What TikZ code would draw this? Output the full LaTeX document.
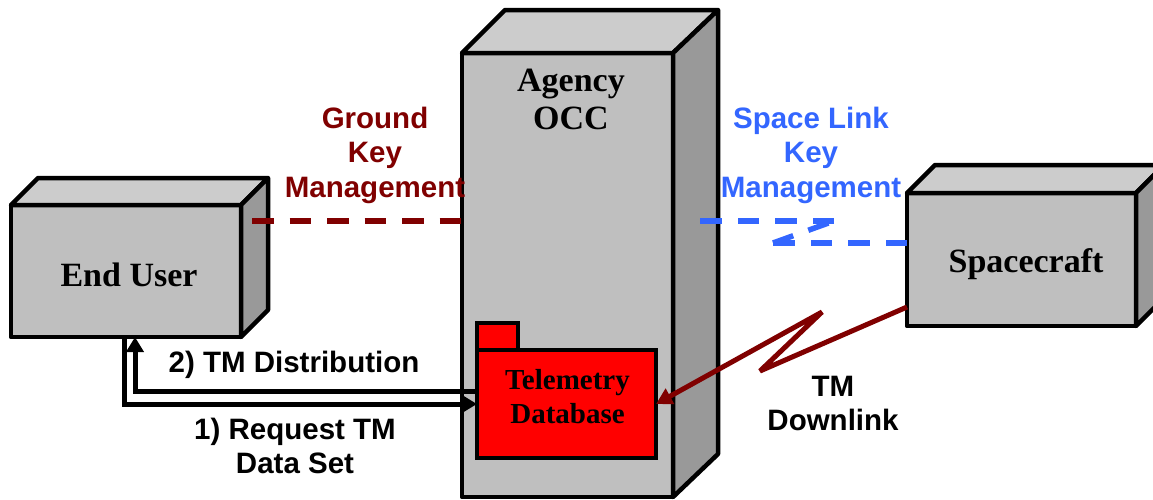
\documentclass[tikz,border=0pt]{standalone}
\usepackage{fontspec}
\setmainfont{Liberation Serif}
\setsansfont{Liberation Sans}
\usetikzlibrary{arrows.meta}
\definecolor{frontgray}{HTML}{bfbfbf}
\definecolor{topgray}{HTML}{cccccc}
\definecolor{sidegray}{HTML}{999999}
\definecolor{keyred}{HTML}{800000}
\definecolor{keyblue}{HTML}{3366ff}

\begin{document}
\begin{tikzpicture}[x=1pt,y=-1pt]
    \useasboundingbox (0, 0) rectangle (1153, 499);
    \clip (0, 0) rectangle (1153, 499);
    \begin{scope}[box/.style={draw,fill=frontgray,line width=4.5pt,line join=bevel,outer sep=0pt,inner sep=0pt},
        face/.style={draw,line width=4.5pt,line join=round},
        folder/.style={draw,fill=red,line width=4.5pt,outer sep=0pt,inner sep=0pt},
        title/.style={align=center,inner sep=0pt,font=\fontsize{34}{38}\selectfont\bfseries},
        label/.style={align=center,inner sep=0pt,font=\fontsize{29.5}{34.5}\selectfont\sffamily\bfseries}]
        % boxes
        \node[box, minimum width=230pt, minimum height=132pt] (enduser) at (126, 271) {};
        \node[box, minimum width=211pt, minimum height=444pt] (occ) at (567.5, 275) {};
        \node[box, minimum width=229pt, minimum height=133pt] (spacecraft) at (1021.5, 259.5) {};
        \fill[face, fill=topgray] (enduser.north west) -- ++(27, -27) -- ++(230, 0) -- (enduser.north east) -- cycle;
        \fill[face, fill=sidegray] (enduser.north east) -- ++(27, -27) -- ++(0, 132) -- (enduser.south east) -- cycle;
        \fill[face, fill=topgray] (occ.north west) -- ++(43, -43) -- ++(213, 0) -- (occ.north east) -- cycle;
        \fill[face, fill=sidegray] (occ.north east) -- ++(45, -43) -- ++(0, 444) -- (occ.south east) -- cycle;
        \fill[face, fill=topgray] (spacecraft.north west) -- ++(28, -28) -- ++(229, 0) -- (spacecraft.north east) -- cycle;
        \fill[face, fill=sidegray] (spacecraft.north east) -- ++(28, -28) -- ++(0, 133) -- (spacecraft.south east) -- cycle;
        \draw[face] (enduser.north west) rectangle (enduser.south east);
        \draw[face] (spacecraft.north west) rectangle (spacecraft.south east);
        \draw[face] (occ.north west) rectangle (occ.south east);
        \node[title] (userlabel) at (129, 275) {End User};
        \node[title] (craftlabel) at (1026, 264.5) {Spacecraft};
        \node[title] (occlabel) at (571, 99) {Agency\\OCC};
        % telemetry folder
        \node[folder, minimum width=41pt, minimum height=27pt] (foldertab) at (497.5, 336.5) {};
        \node[folder, minimum width=179pt, minimum height=108pt] (database) at (566.5, 404) {};
        \node[align=center,inner sep=0pt,font=\fontsize{29}{34}\selectfont\bfseries] (dblabel) at (567.5, 396.5) {Telemetry\\Database};
        % key management links
        \coordinate (groundend) at (252, 221);
        \coordinate (linklow) at (773, 243);
        \coordinate (linkhigh) at (834, 221);
        \coordinate (linkend) at (700, 221);
        \begin{scope}[line width=5.5pt,dash pattern=on 21.5pt off 16pt]
        \draw[keyred] (groundend) -- (groundend -| occ.west);
        \path[keyblue] (spacecraft.west |- linklow) edge (linklow);
        \path[keyblue] (linklow) edge (linkhigh);
        \path[keyblue] (linkhigh) edge (linkend);
        \end{scope}
        % tm data flows
        \begin{scope}[line width=5pt,-{Triangle[length=15pt,width=17pt]}]
        \draw ([xshift=-2pt]enduser.south) |- (database.west);
        \draw ([yshift=13pt]database.west) -| ([xshift=9pt]enduser.south);
        \end{scope}
        \coordinate (boltlow) at (760, 371);
        \coordinate (bolthigh) at (822, 312);
        \draw[keyred,line width=5pt,line join=bevel,-{Triangle[length=16pt,width=17pt]}] ([yshift=-47.5pt]spacecraft.west) -- (boltlow) -- (bolthigh) -- (database.east);
        % labels
        \node[label, text=keyred] (groundkey) at (375, 155) {Ground\\Key\\Management};
        \node[label, text=keyblue] (linkkey) at (811, 155) {Space Link\\Key\\Management};
        \node[label] (distribution) at (294, 365) {2) TM Distribution};
        \node[label] (request) at (295, 446) {1) Request TM\\Data Set};
        \node[label] (downlink) at (833, 403.5) {TM\\Downlink};
    \end{scope}
\end{tikzpicture}
\end{document}
